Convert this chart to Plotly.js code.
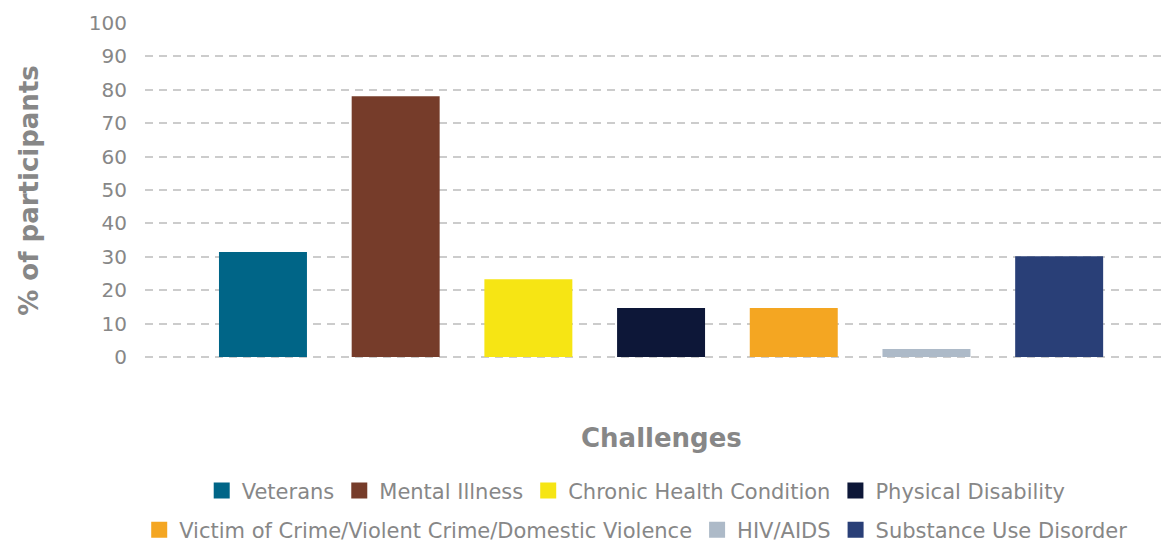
<!DOCTYPE html>
<html>
<head>
<meta charset="utf-8">
<script src="https://cdn.plot.ly/plotly-3.0.1.min.js"></script>
<style>html,body{margin:0;padding:0;background:#fff;}#chart{width:1167px;height:544px;}</style>
</head>
<body>
<div id="chart"></div>
<script>
const categories = ["Veterans", "Mental Illness", "Chronic Health Condition", "Physical Disability",
  "Victim of Crime/Violent Crime/Domestic Violence", "HIV/AIDS", "Substance Use Disorder"];
const values = [31.4, 78.1, 23.3, 14.7, 14.7, 2.4, 30.2];
const colors = ["#006587", "#763C2A", "#F6E514", "#0D1738", "#F4A622", "#ADBAC8", "#293F77"];
const legendGroups = ["legend", "legend", "legend", "legend", "legend2", "legend2", "legend2"];
const yTicks = [0, 10, 20, 30, 40, 50, 60, 70, 80, 90, 100];
const xTitle = "Challenges";
const yTitle = "% of participants";

const gray = "#878787";
const font = "DejaVu Sans, sans-serif";

const traces = [];
categories.forEach((c, i) => {
  traces.push({
    type: "bar", x: [c], y: [values[i]], name: c,
    marker: {color: colors[i]}, showlegend: false, hoverinfo: "y"
  });
});
categories.forEach((c, i) => {
  traces.push({
    type: "scatter", mode: "markers", x: [null], y: [null], name: c,
    marker: {color: colors[i], symbol: "square", size: 22},
    legend: legendGroups[i], showlegend: true
  });
});

const layout = {
  width: 1167, height: 544,
  margin: {l: 145, r: 5, t: 22, b: 185, autoexpand: false},
  paper_bgcolor: "#fff", plot_bgcolor: "#fff",
  barmode: "overlay", bargap: 0.337,
  font: {family: font, color: gray, size: 20},
  xaxis: {
    type: "category", categoryarray: categories,
    range: [-0.889, 6.775], showticklabels: false, showgrid: false,
    zeroline: false, showline: false, ticks: "", automargin: false
  },
  yaxis: {
    range: [-0.6, 100.3], tickvals: yTicks, ticktext: yTicks.map(String),
    showgrid: true, gridcolor: "#cccccc", gridwidth: 2, griddash: "8px,6px",
    zeroline: false, showline: false, ticks: "", ticklabelstandoff: 17, automargin: false,
    tickfont: {size: 20, color: gray, family: font},
    title: {text: "<b>" + yTitle + "</b>", font: {size: 26, color: gray, family: font}, standoff: 42}
  },
  annotations: [{
    text: "<b>" + xTitle + "</b>", xref: "paper", yref: "paper",
    x: 0.508, y: -0.234, xanchor: "center", yanchor: "middle", showarrow: false,
    font: {size: 26, color: gray, family: font}
  }],
  legend: {
    orientation: "h", x: 0.483, xanchor: "center", y: -0.391, yanchor: "middle",
    font: {size: 21, color: gray, family: font}, itemsizing: "trace", traceorder: "normal"
  },
  legend2: {
    orientation: "h", x: 0.483, xanchor: "center", y: -0.508, yanchor: "middle",
    font: {size: 21, color: gray, family: font}, itemsizing: "trace", traceorder: "normal"
  },
  showlegend: true
};

Plotly.newPlot("chart", traces, layout, {displayModeBar: false, staticPlot: true});
</script>
</body>
</html>
